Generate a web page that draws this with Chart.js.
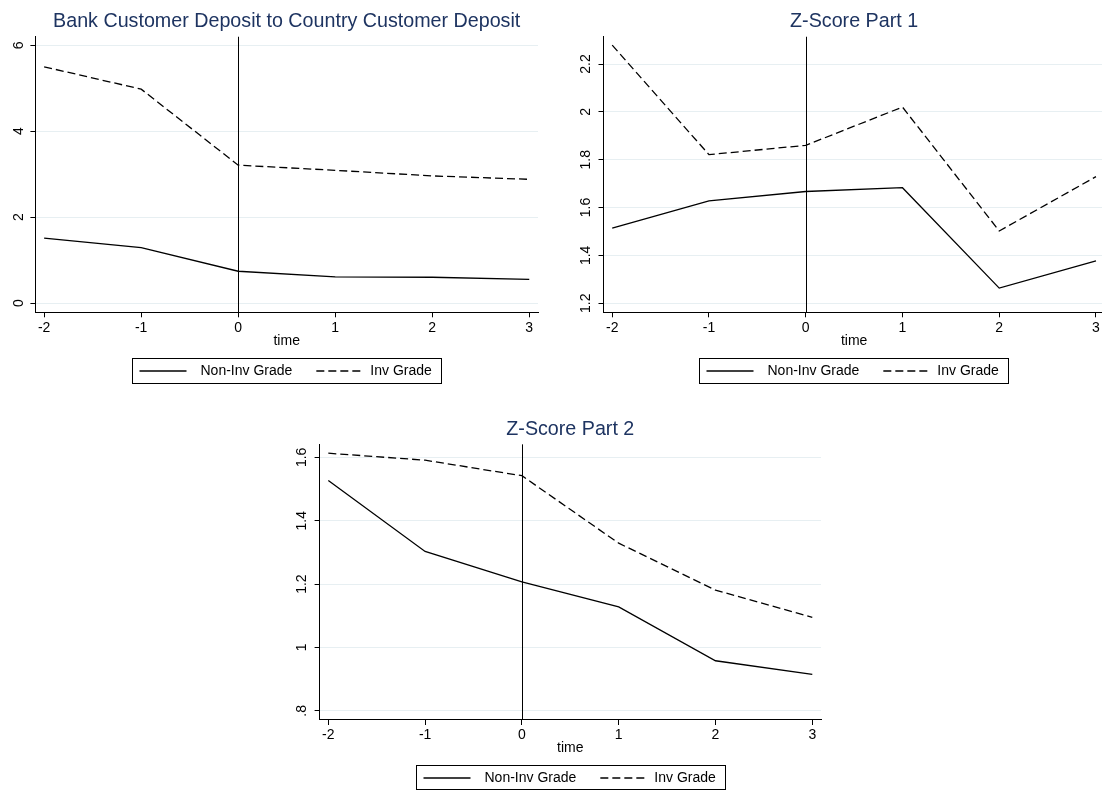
<!DOCTYPE html>
<html>
<head>
<meta charset="utf-8">
<script src="https://cdn.jsdelivr.net/npm/chart.js@4.4.1/dist/chart.umd.min.js"></script>
<style>
  html, body { margin: 0; padding: 0; background: #fff; overflow: hidden; }
  body { width: 1102px; height: 790px; position: relative; }
  canvas { position: absolute; }
</style>
</head>
<body>
<canvas id="deposit"></canvas>
<canvas id="zscore1"></canvas>
<canvas id="zscore2"></canvas>
<script>
// data
const timePoints = [-2, -1, 0, 1, 2, 3]
const seriesLabels = ["Non-Inv Grade", "Inv Grade"]

const depositNonInv = [1.51, 1.29, 0.74, 0.61, 0.60, 0.55]
const depositInv = [5.50, 4.98, 3.21, 3.09, 2.96, 2.88]
const depositTicks = [0, 2, 4, 6]
const depositTickLabels = ["0", "2", "4", "6"]

const zPart1NonInv = [1.514, 1.628, 1.667, 1.683, 1.263, 1.377]
const zPart1Inv = [2.279, 1.821, 1.860, 2.020, 1.502, 1.729]
const zPart1Ticks = [1.2, 1.4, 1.6, 1.8, 2, 2.2]
const zPart1TickLabels = ["1.2", "1.4", "1.6", "1.8", "2", "2.2"]

const zPart2NonInv = [1.527, 1.303, 1.207, 1.128, 0.958, 0.915]
const zPart2Inv = [1.613, 1.591, 1.542, 1.329, 1.181, 1.095]
const zPart2Ticks = [0.8, 1, 1.2, 1.4, 1.6]
const zPart2TickLabels = [".8", "1", "1.2", "1.4", "1.6"]

const eventTime = 0

const FONT = '"Liberation Sans", Arial, Helvetica, sans-serif'
const INK = "#000"
const GRID = "#e7eff2"
const TITLE = "#1e3461"

// vertical line at the event date
const refLine = {
  id: "refLine",
  beforeDatasetsDraw(chart, args, opts) {
    const { ctx, chartArea, scales } = chart
    const px = Math.round(scales.x.getPixelForValue(opts.at)) + 0.5
    ctx.save()
    ctx.strokeStyle = INK
    ctx.lineWidth = 1
    ctx.beginPath()
    ctx.moveTo(px, chartArea.top)
    ctx.lineTo(px, chartArea.bottom)
    ctx.stroke()
    ctx.restore()
  }
}

// Stata style legend: one row inside a thin frame
const framedLegend = {
  id: "framedLegend",
  afterDraw(chart, args, opts) {
    const { ctx, chartArea } = chart
    const sample = 47, padL = 7, padR = 10, spacing = 24, gaps = [14, 7]
    ctx.save()
    ctx.font = `14px ${FONT}`
    const items = chart.data.datasets.map(ds => ({ ds, w: ctx.measureText(ds.label).width }))
    let total = padL + padR + spacing * (items.length - 1)
    items.forEach((it, i) => { total += sample + gaps[i] + it.w })
    const left = Math.round((chartArea.left + chartArea.right) / 2 - total / 2) + 0.5
    const top = Math.round(chartArea.bottom + opts.offset) + 0.5
    ctx.strokeStyle = INK
    ctx.lineWidth = 1
    ctx.strokeRect(left, top, Math.round(total), opts.height)
    const cy = Math.round(top + opts.height / 2)
    let x = left + padL
    items.forEach((it, i) => {
      ctx.setLineDash(it.ds.borderDash || [])
      ctx.lineWidth = it.ds.borderWidth
      ctx.beginPath()
      ctx.moveTo(x, cy)
      ctx.lineTo(x + sample, cy)
      ctx.stroke()
      ctx.setLineDash([])
      x += sample + gaps[i]
      ctx.fillStyle = INK
      ctx.textAlign = "left"
      ctx.textBaseline = "middle"
      ctx.fillText(it.ds.label, x, cy + 0.5)
      x += it.w + spacing
    })
    ctx.restore()
  }
}

function makePanel(id, box, nonInv, inv, yTicks, yLabels, yRange, title) {
  const canvas = document.getElementById(id)
  canvas.width = box.w
  canvas.height = box.h
  canvas.style.left = box.x + "px"
  canvas.style.top = box.y + "px"

  const line = (label, values, dash) => ({
    label,
    data: timePoints.map((t, i) => ({ x: t, y: values[i] })),
    borderColor: INK,
    borderWidth: 1.3,
    borderDash: dash,
    pointRadius: 0,
    tension: 0,
    fill: false
  })

  return new Chart(canvas, {
    type: "line",
    data: {
      datasets: [
        line(seriesLabels[0], nonInv, []),
        line(seriesLabels[1], inv, [8, 4])
      ]
    },
    options: {
      responsive: false,
      animation: false,
      devicePixelRatio: 1,
      layout: { padding: { left: 0, top: 0, right: box.padRight, bottom: box.padBottom } },
      scales: {
        x: {
          type: "linear",
          min: -2.09,
          max: 3.09,
          afterBuildTicks: s => { s.ticks = timePoints.map(v => ({ value: v })) },
          afterFit: s => { s.height = 37 },
          grid: { drawOnChartArea: false, tickLength: 5, tickColor: INK },
          border: { color: INK, width: 1 },
          ticks: {
            autoSkip: false,
            maxRotation: 0,
            padding: 2,
            color: INK,
            font: { family: FONT, size: 14 },
            callback: v => String(v)
          },
          title: { display: true, text: "time", color: INK, font: { family: FONT, size: 14 }, padding: 0 }
        },
        y: {
          min: yRange[0],
          max: yRange[1],
          afterBuildTicks: s => { s.ticks = yTicks.map(v => ({ value: v })) },
          afterFit: s => { s.width = box.yWidth },
          grid: { color: GRID, tickColor: INK, tickLength: 5 },
          border: { color: INK, width: 1 },
          ticks: {
            minRotation: 90,
            maxRotation: 90,
            crossAlign: "center",
            padding: box.yPad,
            color: INK,
            font: { family: FONT, size: 14 },
            callback: (v, i) => yLabels[i]
          }
        }
      },
      plugins: {
        legend: { display: false },
        tooltip: { enabled: false },
        title: {
          display: true,
          text: title,
          fullSize: false,
          color: TITLE,
          font: { family: FONT, size: 19.7, weight: "normal" },
          padding: { top: box.titleTop, bottom: box.titleBottom }
        },
        refLine: { at: eventTime },
        framedLegend: { offset: box.legendOffset, height: box.legendHeight }
      }
    },
    plugins: [refLine, framedLegend]
  })
}

makePanel("deposit",
  { x: 0, y: 0, w: 551, h: 395, yWidth: 35.4, yPad: 7, padRight: 13, padBottom: 45.7,
    titleTop: 9.5, titleBottom: 3.6, legendOffset: 46, legendHeight: 25 },
  depositNonInv, depositInv, depositTicks, depositTickLabels, [-0.216, 6.2],
  "Bank Customer Deposit to Country Customer Deposit")

makePanel("zscore1",
  { x: 551, y: 0, w: 560, h: 395, yWidth: 52.5, yPad: 3, padRight: 6.3, padBottom: 45.7,
    titleTop: 9.5, titleBottom: 3.6, legendOffset: 46, legendHeight: 25 },
  zPart1NonInv, zPart1Inv, zPart1Ticks, zPart1TickLabels, [1.162, 2.314],
  "Z-Score Part 1")

makePanel("zscore2",
  { x: 275, y: 395, w: 552, h: 395, yWidth: 44.6, yPad: 3, padRight: 6, padBottom: 33,
    titleTop: 23, titleBottom: 2.7, legendOffset: 45, legendHeight: 24 },
  zPart2NonInv, zPart2Inv, zPart2Ticks, zPart2TickLabels, [0.771, 1.641],
  "Z-Score Part 2")
</script>
</body>
</html>
